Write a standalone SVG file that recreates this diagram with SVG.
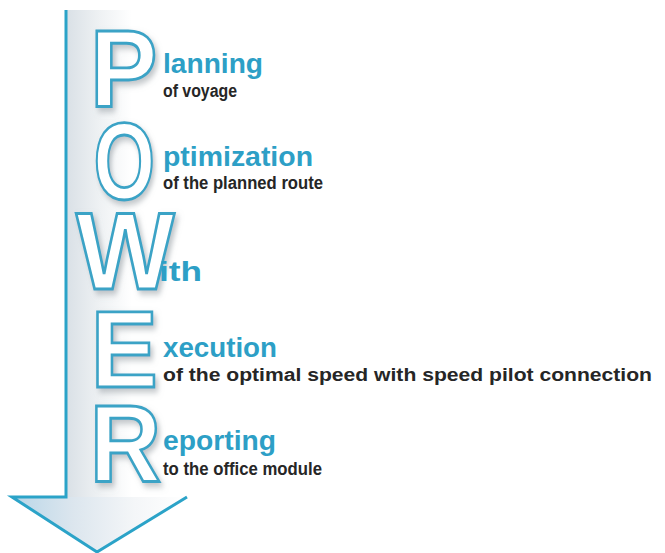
<svg xmlns="http://www.w3.org/2000/svg" width="665" height="553" viewBox="0 0 665 553">
<defs>
<linearGradient id="shaft" x1="0" y1="0" x2="1" y2="0">
<stop offset="0" stop-color="#d9e0e6"/>
<stop offset="0.5" stop-color="#eef1f3"/>
<stop offset="1" stop-color="#ffffff"/>
</linearGradient>
<linearGradient id="head" x1="0" y1="0" x2="1" y2="0">
<stop offset="0" stop-color="#b9d6e8"/>
<stop offset="0.35" stop-color="#dce6ee"/>
<stop offset="0.7" stop-color="#f4f6f8"/>
<stop offset="1" stop-color="#ffffff"/>
</linearGradient>
<filter id="shadow" x="-20%" y="-20%" width="150%" height="150%">
<feDropShadow dx="3" dy="4" stdDeviation="3" flood-color="#8f969c" flood-opacity="0.55"/>
</filter>
<style>
.big{font-family:"Liberation Sans",Arial,sans-serif;font-weight:bold;font-size:110px;fill:#ffffff;stroke:#3ba3c6;stroke-width:2.8;filter:url(#shadow)}
.hd{font-family:"Liberation Sans",Arial,sans-serif;font-weight:bold;font-size:27px;fill:#2d9fc6}
.sub{font-family:"Liberation Sans",Arial,sans-serif;font-weight:bold;font-size:18px;fill:#262626}
</style>
</defs>
<rect width="665" height="553" fill="#ffffff"/>
<g id="arrow">
<rect x="66" y="10" width="66" height="488" fill="url(#shaft)"/>
<polygon points="12,497 187,497 97,552" fill="url(#head)"/>
<path d="M66,10 V497 H12 L97,552 L187,497" fill="none" stroke="#2ba3c8" stroke-width="3" stroke-linejoin="miter"/>
</g>
<g id="node-P">
<text class="big" transform="translate(90,107) scale(0.92,1)">P</text>
<text class="hd" x="163" y="73" textLength="100" lengthAdjust="spacingAndGlyphs">lanning</text>
<text class="sub" x="163" y="97" textLength="74" lengthAdjust="spacingAndGlyphs">of voyage</text>
</g>
<g id="node-O">
<text class="big" transform="translate(93.5,199) scale(0.72,1)">O</text>
<text class="hd" x="163" y="166" textLength="150" lengthAdjust="spacingAndGlyphs">ptimization</text>
<text class="sub" x="163" y="189" textLength="160" lengthAdjust="spacingAndGlyphs">of the planned route</text>
</g>
<g id="node-W">
<text class="big" transform="translate(76,289) scale(0.95,1)">W</text>
<text class="hd" x="159" y="281" textLength="43" lengthAdjust="spacingAndGlyphs">ith</text>
</g>
<g id="node-E">
<text class="big" transform="translate(90.7,387) scale(0.915,1)">E</text>
<text class="hd" x="163" y="357" textLength="114" lengthAdjust="spacingAndGlyphs">xecution</text>
<text class="sub" x="163" y="381" textLength="489" lengthAdjust="spacingAndGlyphs">of the optimal speed with speed pilot connection</text>
</g>
<g id="node-R">
<text class="big" transform="translate(89.7,482) scale(0.9,1)">R</text>
<text class="hd" x="163" y="450" textLength="113" lengthAdjust="spacingAndGlyphs">eporting</text>
<text class="sub" x="163" y="475" textLength="159" lengthAdjust="spacingAndGlyphs">to the office module</text>
</g>
</svg>
